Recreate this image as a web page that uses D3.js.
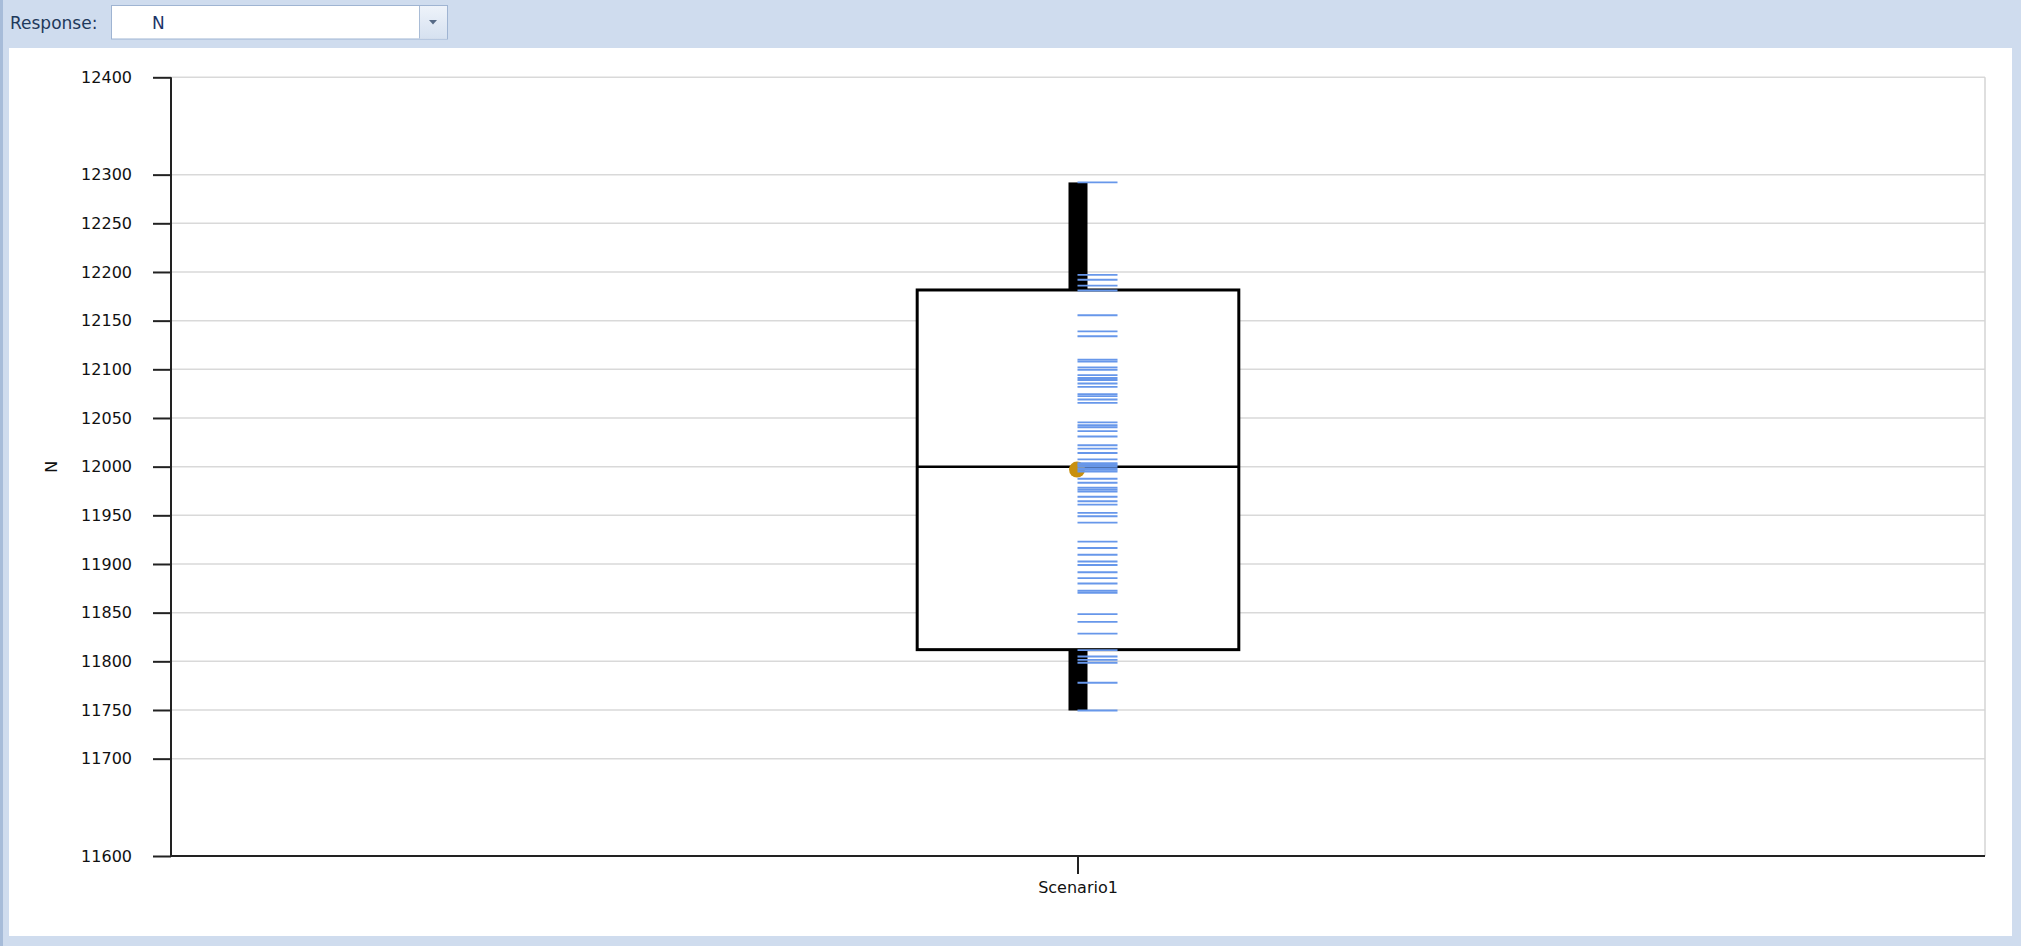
<!DOCTYPE html>
<html>
<head>
<meta charset="utf-8">
<script src="https://cdn.jsdelivr.net/npm/d3@7"></script>
<style>
  html, body { margin: 0; padding: 0; background: #CFDCEE; overflow: hidden; }
  svg { display: block; }
  text { font-family: "DejaVu Sans", sans-serif; }
</style>
</head>
<body>
<svg id="chart" width="2021" height="946"></svg>
<script>
// ---- data ----
const responseName = "N";
const categories = ["Scenario1"];
const boxMin = [11749.5];
const boxQ1 = [11812];
const boxMedian = [12000];
const boxQ3 = [12181.5];
const boxMax = [12292];
const boxMean = [11997];
const yTickValues = [11600, 11700, 11750, 11800, 11850, 11900, 11950, 12000, 12050, 12100, 12150, 12200, 12250, 12300, 12400];
const observations = [
  12292, 12197, 12192, 12186, 12181, 12155.5, 12139, 12134, 12110, 12108,
  12102, 12099.5, 12094, 12091, 12089, 12085.5, 12082, 12074.5, 12072.5, 12069,
  12065.5, 12045.5, 12042.5, 12040.5, 12036.5, 12031, 12022, 12018.5, 12014, 12007.5,
  12003.5, 12002, 12000.5, 11998.5, 11996.8, 11995, 11987.5, 11983.5, 11978.5, 11976.5,
  11974.5, 11969, 11964.5, 11961, 11952.5, 11949, 11942.5, 11923, 11916.5, 11909.5,
  11902.5, 11899, 11891.5, 11885.5, 11880, 11872.5, 11870.5, 11848.5, 11840.5, 11828.5,
  11811.5, 11805, 11801.5, 11798.5, 11778, 11749.5
];

// ---- layout ----
const svg = d3.select("#chart");
const W = 2021, H = 946;
const plot = { left: 171, right: 1985, top: 77.3, bottom: 856 };

// background frame
svg.append("rect").attr("x", 0).attr("y", 0).attr("width", W).attr("height", H).attr("fill", "#CFDCEE");
svg.append("rect").attr("x", 0).attr("y", 0).attr("width", 3).attr("height", H).attr("fill", "#A7BCD9");
svg.append("rect").attr("x", 9).attr("y", 48).attr("width", 2003).attr("height", 888).attr("fill", "#FFFFFF");

// toolbar
svg.append("text").attr("x", 10).attr("y", 29).attr("font-size", 17).attr("fill", "#1E395B").text("Response:");
svg.append("rect").attr("x", 111.5).attr("y", 5.5).attr("width", 336).attr("height", 33.5)
  .attr("fill", "#FFFFFF").attr("stroke", "#9FB4D2").attr("stroke-width", 1);
const grad = svg.append("defs").append("linearGradient").attr("id", "btn").attr("x1", 0).attr("x2", 0).attr("y1", 0).attr("y2", 1);
grad.append("stop").attr("offset", "0%").attr("stop-color", "#EEF3FA");
grad.append("stop").attr("offset", "100%").attr("stop-color", "#D6E1F0");
svg.append("rect").attr("x", 419.5).attr("y", 6).attr("width", 27.5).attr("height", 32.5).attr("fill", "url(#btn)");
svg.append("line").attr("x1", 419.5).attr("x2", 419.5).attr("y1", 6).attr("y2", 38.5).attr("stroke", "#A9BCD6");
svg.append("path").attr("d", "M429,20 L437,20 L433,24.5 Z").attr("fill", "#566A86");
svg.append("text").attr("x", 152).attr("y", 29).attr("font-size", 17).attr("fill", "#1C3567").text(responseName);

// scales
const y = d3.scaleLinear().domain([11600, 12400]).range([plot.bottom, plot.top]);
const x = d3.scaleBand().domain(categories).range([plot.left, plot.right]).paddingInner(0).paddingOuter(0);
const cx = c => x(c) + x.bandwidth() / 2;
const boxW = x.bandwidth() * 0.1773;

// grid
const g = svg.append("g");
g.selectAll("line.grid").data(yTickValues.filter(v => v !== 11600)).join("line")
  .attr("class", "grid")
  .attr("x1", plot.left).attr("x2", plot.right)
  .attr("y1", d => y(d)).attr("y2", d => y(d))
  .attr("stroke", "#D9D9D9").attr("stroke-width", 1.5);
g.append("line").attr("x1", plot.right).attr("x2", plot.right).attr("y1", plot.top).attr("y2", plot.bottom)
  .attr("stroke", "#D4D4D4").attr("stroke-width", 1.5);

// y axis
const yAxis = d3.axisLeft(y).tickValues(yTickValues).tickSize(18).tickPadding(21).tickFormat(d3.format("d"));
const ya = svg.append("g").attr("transform", `translate(${plot.left},0)`).call(yAxis);
ya.select(".domain").attr("stroke", "#222").attr("stroke-width", 2).attr("d", `M0,${plot.top}V${plot.bottom}`);
ya.selectAll(".tick line").attr("stroke", "#222").attr("stroke-width", 2);
ya.selectAll(".tick text").attr("font-size", 16).attr("fill", "#111").attr("font-family", "DejaVu Sans");

// x axis
const xAxis = d3.axisBottom(x).tickSize(18).tickPadding(8);
const xa = svg.append("g").attr("transform", `translate(0,${plot.bottom})`).call(xAxis);
xa.select(".domain").attr("stroke", "#222").attr("stroke-width", 2).attr("d", `M${plot.left},0H${plot.right}`);
xa.selectAll(".tick line").attr("stroke", "#222").attr("stroke-width", 2);
xa.selectAll(".tick text").attr("font-size", 16).attr("fill", "#111").attr("font-family", "DejaVu Sans");

// y label
svg.append("text").attr("transform", "translate(57,466.7) rotate(-90)")
  .attr("text-anchor", "middle").attr("font-size", 16).attr("fill", "#111").text(responseName);

// boxes
const boxes = categories.map((c, i) => ({ c, min: boxMin[i], q1: boxQ1[i], med: boxMedian[i], q3: boxQ3[i], max: boxMax[i], mean: boxMean[i] }));
const bg = svg.append("g");
// thick whiskers
bg.selectAll("rect.wt").data(boxes).join("rect").attr("class", "wt")
  .attr("x", d => cx(d.c) - 9.5).attr("width", 19)
  .attr("y", d => y(d.max)).attr("height", d => y(d.q3) - y(d.max)).attr("fill", "#000");
bg.selectAll("rect.wb").data(boxes).join("rect").attr("class", "wb")
  .attr("x", d => cx(d.c) - 9.5).attr("width", 19)
  .attr("y", d => y(d.q1)).attr("height", d => y(d.min) - y(d.q1)).attr("fill", "#000");
// box
bg.selectAll("rect.box").data(boxes).join("rect").attr("class", "box")
  .attr("x", d => cx(d.c) - boxW / 2).attr("width", boxW)
  .attr("y", d => y(d.q3)).attr("height", d => y(d.q1) - y(d.q3))
  .attr("fill", "#FFFFFF").attr("stroke", "#000").attr("stroke-width", 3);
bg.selectAll("line.med").data(boxes).join("line").attr("class", "med")
  .attr("x1", d => cx(d.c) - boxW / 2).attr("x2", d => cx(d.c) + boxW / 2)
  .attr("y1", d => y(d.med)).attr("y2", d => y(d.med))
  .attr("stroke", "#000").attr("stroke-width", 2.5);
// mean
bg.selectAll("circle.mean").data(boxes).join("circle").attr("class", "mean")
  .attr("cx", d => cx(d.c) - 1).attr("cy", d => y(d.mean)).attr("r", 8)
  .attr("fill", "#C8900F");
// observations rug
bg.selectAll("line.obs").data(observations).join("line").attr("class", "obs")
  .attr("x1", cx(categories[0]) - 0.5).attr("x2", cx(categories[0]) + 39.5)
  .attr("y1", d => y(d)).attr("y2", d => y(d))
  .attr("stroke", "#6797EA").attr("stroke-width", 1.9);
</script>
</body>
</html>
